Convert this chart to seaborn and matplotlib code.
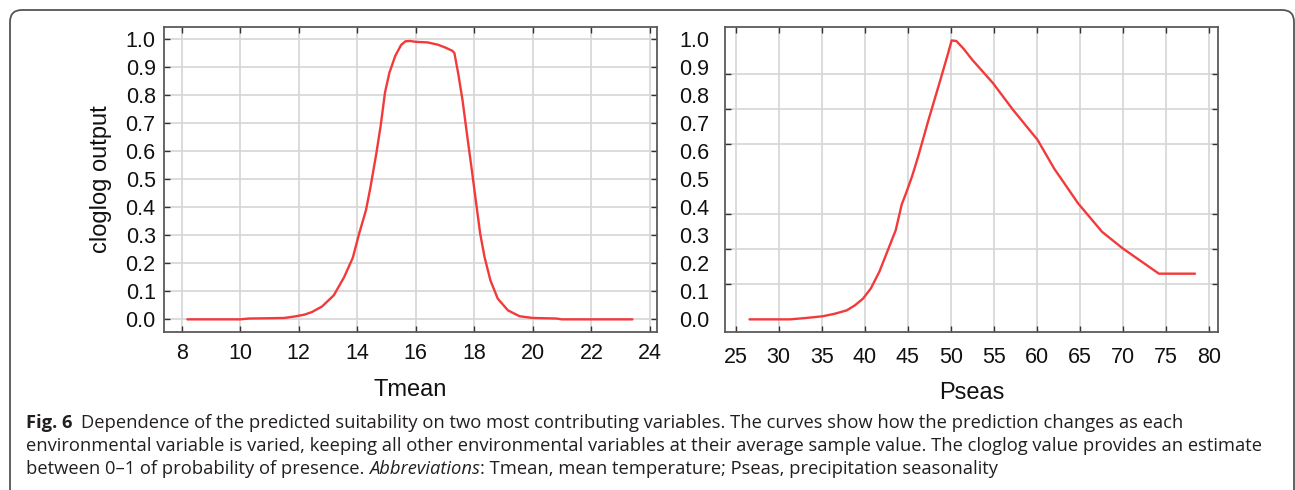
import numpy as np
import pandas as pd
import seaborn as sns
import matplotlib
matplotlib.use("Agg")
import matplotlib.pyplot as plt
from matplotlib.patches import FancyBboxPatch

# response curve
tmean_x = [8.2, 9.0, 10.0, 10.3, 11.0, 11.5, 11.85, 12.2, 12.45, 12.8, 13.2, 13.55,
           13.85, 14.05, 14.3, 14.45, 14.65, 14.8, 14.95, 15.1, 15.3, 15.5, 15.65,
           15.8, 16.0, 16.4, 16.75, 17.0, 17.25, 17.32, 17.45, 17.6, 17.75, 17.9,
           18.05, 18.2, 18.35, 18.55, 18.8, 19.15, 19.55, 20.0, 20.8, 21.0, 22.0, 23.4]
tmean_y = [0.0, 0.0, 0.0, 0.003, 0.004, 0.005, 0.01, 0.017, 0.026, 0.046, 0.086, 0.15,
           0.22, 0.30, 0.39, 0.47, 0.59, 0.69, 0.81, 0.88, 0.94, 0.979, 0.992,
           0.993, 0.99, 0.988, 0.98, 0.97, 0.958, 0.95, 0.877, 0.78, 0.66, 0.544,
           0.425, 0.306, 0.222, 0.139, 0.074, 0.032, 0.011, 0.005, 0.003, 0.0, 0.0, 0.0]

pseas_x = [26.6, 31.3, 33.2, 35.1, 36.5, 37.9, 38.85, 39.8, 40.7, 41.7, 42.6, 43.6,
           44.3, 44.8, 45.5, 46.2, 47.4, 48.8, 49.7, 50.1, 50.65, 51.5, 52.5, 54.9,
           57.25, 60.1, 62.0, 64.8, 67.6, 70.0, 72.8, 74.2, 78.4]
pseas_y = [0.0, 0.0, 0.005, 0.011, 0.02, 0.032, 0.05, 0.074, 0.11, 0.17, 0.24, 0.318,
           0.41, 0.45, 0.51, 0.58, 0.71, 0.855, 0.95, 0.995, 0.993, 0.965, 0.926, 0.843,
           0.747, 0.64, 0.539, 0.414, 0.312, 0.253, 0.193, 0.163, 0.163]

tmean_ticks = [8, 10, 12, 14, 16, 18, 20, 22, 24]
pseas_ticks = [25, 30, 35, 40, 45, 50, 55, 60, 65, 70, 75, 80]
y_ticks = [0.0, 0.1, 0.2, 0.3, 0.4, 0.5, 0.6, 0.7, 0.8, 0.9, 1.0]
pseas_grid = [0.0, 0.125, 0.25, 0.375, 0.5, 0.625, 0.75, 0.875, 1.0]

caption1 = ("Dependence of the predicted suitability on two most contributing variables. "
            "The curves show how the prediction changes as each")
caption2 = ("environmental variable is varied, keeping all other environmental variables "
            "at their average sample value. The cloglog value provides an estimate")
caption3a = "between 0\u20131 of probability of presence. "
caption3b = "Abbreviations"
caption3c = ": Tmean, mean temperature; Pseas, precipitation seasonality"

sns.set_style("ticks")
plt.rcParams["font.family"] = ["Liberation Sans", "DejaVu Sans"]

W, H = 1295, 490
fig = plt.figure(figsize=(W / 100, H / 100), dpi=100)

def frac(x0, y0, x1, y1):
    return [x0 / W, 1 - y1 / H, (x1 - x0) / W, (y1 - y0) / H]

ax1 = fig.add_axes(frac(164, 26.7, 656.7, 331.7))
ax2 = fig.add_axes(frac(724.8, 26.7, 1218, 331.7))

red = "#f23a3a"
frame = "#5a5a5a"
gridc = "#d6d6d6"

df1 = pd.DataFrame({"Tmean": tmean_x, "cloglog": tmean_y})
df2 = pd.DataFrame({"Pseas": pseas_x, "cloglog": pseas_y})
sns.lineplot(ax=ax1, data=df1, x="Tmean", y="cloglog", color=red, lw=1.7,
             estimator=None, sort=False, legend=False, zorder=3)
sns.lineplot(ax=ax2, data=df2, x="Pseas", y="cloglog", color=red, lw=1.7,
             estimator=None, sort=False, legend=False, zorder=3)

for ax in (ax1, ax2):
    for s in ax.spines.values():
        s.set_visible(True)
        s.set_color(frame)
        s.set_linewidth(1.3)
    ax.set_ylim(-0.044, 1.044)
    ax.tick_params(which="both", direction="in", top=True, right=True,
                   color="#333333", width=1.0, labelsize=15.5, labelcolor="#111111")
    ax.set_axisbelow(True)

ax1.set_xlim(7.40, 24.23)
ax1.set_xticks(tmean_ticks)
ax1.set_yticks(y_ticks)
ax1.set_yticklabels([f"{v:.1f}" for v in y_ticks])
ax1.tick_params(axis="x", length=4, pad=8)
ax1.tick_params(axis="y", length=4, pad=6)
ax1.grid(True, color=gridc, lw=1.2)
ax1.set_xlabel("Tmean", fontsize=17, labelpad=11, color="#111111")
ax1.set_ylabel("cloglog output", fontsize=17, labelpad=10, color="#111111")

ax2.set_xlim(23.73, 81.07)
ax2.set_xticks(pseas_ticks)
ax2.set_yticks(y_ticks)
ax2.set_yticklabels([f"{v:.1f}" for v in y_ticks])
ax2.set_yticks(pseas_grid, minor=True)
ax2.tick_params(axis="x", length=4, pad=11)
ax2.tick_params(axis="y", which="major", length=0, pad=11)
ax2.tick_params(axis="y", which="minor", length=4)
ax2.grid(True, axis="x", color=gridc, lw=1.2)
ax2.grid(True, axis="y", which="minor", color=gridc, lw=1.2)
ax2.set_xlabel("Pseas", fontsize=17, labelpad=10, color="#111111")
ax2.set_ylabel("")

# caption panel border with rounded top corners
box = FancyBboxPatch((10, -40), 1284, H - 10 + 40,
                     boxstyle="round,pad=0,rounding_size=12",
                     transform=None, fill=False, edgecolor="#555555", lw=1.3)
fig.add_artist(box)

cap_font = ["Open Sans", "DejaVu Sans"]
cap_size = 13.2
cap_col = "#231f20"
renderer = fig.canvas.get_renderer()

def put(x, y, s, **kw):
    t = fig.text(x / W, 1 - y / H, s, fontsize=cap_size, color=cap_col,
                 family=cap_font, va="baseline", ha="left", **kw)
    bb = t.get_window_extent(renderer=renderer)
    return bb.x1

x = put(26, 428, "Fig. 6", weight="bold")
put(x + 9, 428, caption1)
put(26, 451, caption2)
x = put(26, 474, caption3a)
x = put(x, 474, caption3b, style="italic")
put(x, 474, caption3c)

fig.savefig("out.png", dpi=100)
